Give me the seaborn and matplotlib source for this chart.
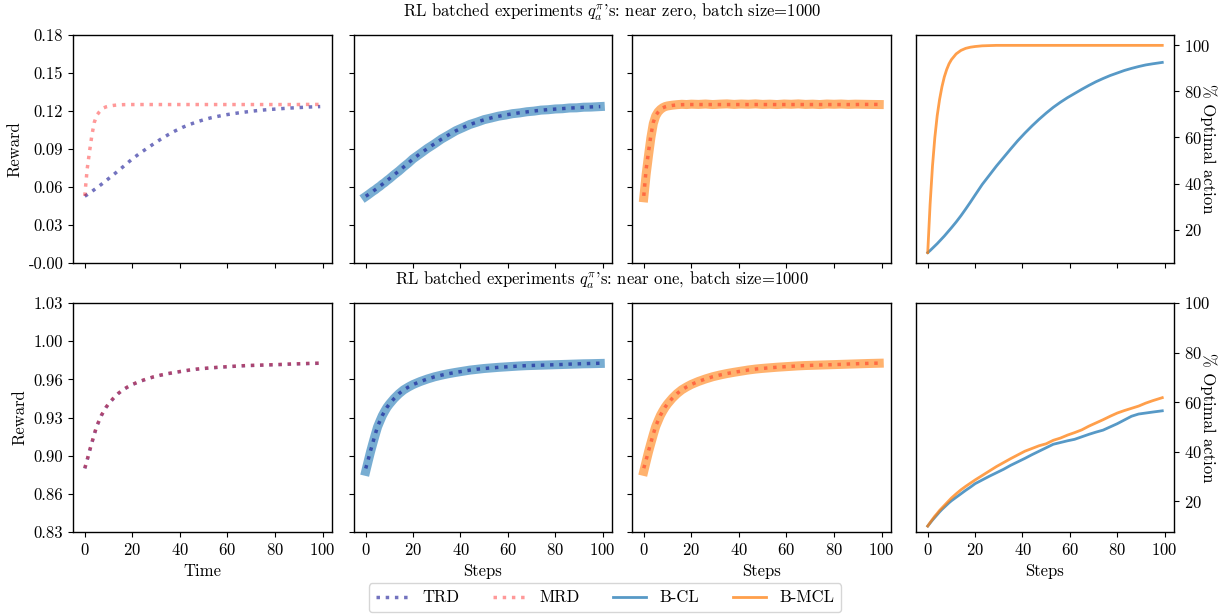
import matplotlib
matplotlib.use("Agg")
import matplotlib.pyplot as plt
import seaborn as sns

# ---------------------------------------------------------------- data
steps = [0, 1, 2, 3, 4, 5, 6, 7, 8, 9, 10, 12, 14, 16, 18, 20, 23, 26, 29, 32,
         35, 38, 41, 44, 47, 50, 53, 56, 59, 62, 65, 68, 71, 74, 77, 80, 83,
         86, 89, 92, 95, 99]

# q values near zero: mean reward
zero_trd = [0.0527, 0.0539, 0.0552, 0.0565, 0.0579, 0.0593, 0.0607, 0.0621,
            0.0636, 0.0651, 0.0666, 0.0696, 0.0727, 0.0758, 0.0790, 0.0822,
            0.0864, 0.0903, 0.0941, 0.0978, 0.1012, 0.1043, 0.1070, 0.1093,
            0.1113, 0.1131, 0.1146, 0.1158, 0.1169, 0.1178, 0.1186, 0.1193,
            0.1200, 0.1206, 0.1211, 0.1215, 0.1219, 0.1223, 0.1226, 0.1229,
            0.1232, 0.1235]
zero_mrd = [0.0530, 0.0740, 0.0880, 0.1010, 0.1110, 0.1165, 0.1190, 0.1210,
            0.1225, 0.1233, 0.1238, 0.1244, 0.1248, 0.1250, 0.1251, 0.1251,
            0.1251, 0.1251, 0.1251, 0.1251, 0.1251, 0.1251, 0.1251, 0.1251,
            0.1251, 0.1251, 0.1251, 0.1251, 0.1251, 0.1251, 0.1251, 0.1251,
            0.1251, 0.1251, 0.1251, 0.1251, 0.1251, 0.1251, 0.1251, 0.1252,
            0.1252, 0.1252]
zero_bcl = [0.0525, 0.0538, 0.0552, 0.0566, 0.0578, 0.0593, 0.0606, 0.0622,
            0.0635, 0.0651, 0.0665, 0.0697, 0.0726, 0.0759, 0.0789, 0.0823,
            0.0863, 0.0904, 0.0940, 0.0979, 0.1011, 0.1044, 0.1069, 0.1094,
            0.1112, 0.1132, 0.1145, 0.1159, 0.1168, 0.1179, 0.1185, 0.1194,
            0.1199, 0.1207, 0.1210, 0.1216, 0.1218, 0.1224, 0.1225, 0.1230,
            0.1231, 0.1235]
zero_bmcl = [0.0515, 0.0700, 0.0850, 0.0990, 0.1100, 0.1160, 0.1192, 0.1212,
             0.1226, 0.1235, 0.1240, 0.1246, 0.1250, 0.1253, 0.1251, 0.1254,
             0.1252, 0.1255, 0.1251, 0.1254, 0.1256, 0.1252, 0.1255, 0.1253,
             0.1256, 0.1252, 0.1254, 0.1251, 0.1255, 0.1253, 0.1256, 0.1252,
             0.1254, 0.1251, 0.1255, 0.1253, 0.1255, 0.1252, 0.1254, 0.1253,
             0.1252, 0.1251]
zero_opt_bcl = [10.0, 10.9, 11.9, 12.9, 13.9, 15.0, 16.1, 17.2, 18.4, 19.6,
                20.8, 23.3, 26.0, 28.9, 31.9, 35.0, 39.6, 43.6, 47.6, 51.3,
                55.0, 58.6, 61.9, 65.0, 67.9, 70.6, 73.1, 75.3, 77.3, 79.1,
                80.9, 82.6, 84.2, 85.6, 86.9, 88.0, 89.1, 90.0, 90.8, 91.5,
                92.0, 92.6]
zero_opt_bmcl = [10.0, 31.0, 47.5, 60.0, 69.5, 76.5, 82.0, 86.3, 89.5, 92.0,
                 93.8, 96.3, 97.8, 98.7, 99.2, 99.5, 99.8, 99.9, 100.0, 100.0,
                 100.0, 100.0, 100.0, 100.0, 100.0, 100.0, 100.0, 100.0, 100.0,
                 100.0, 100.0, 100.0, 100.0, 100.0, 100.0, 100.0, 100.0, 100.0,
                 100.0, 100.0, 100.0, 100.0]

# q values near one: mean reward
one_trd = [0.8855, 0.8928, 0.9007, 0.9080, 0.9153, 0.9222, 0.9270, 0.9318,
           0.9355, 0.9390, 0.9418, 0.9466, 0.9508, 0.9541, 0.9566, 0.9588,
           0.9614, 0.9636, 0.9655, 0.9670, 0.9683, 0.9694, 0.9704, 0.9714,
           0.9722, 0.9728, 0.9733, 0.9738, 0.9742, 0.9746, 0.9750, 0.9753,
           0.9755, 0.9757, 0.9759, 0.9761, 0.9763, 0.9766, 0.9768, 0.9770,
           0.9772, 0.9774]
one_mrd = [0.8857, 0.8930, 0.9008, 0.9082, 0.9155, 0.9224, 0.9272, 0.9320,
           0.9357, 0.9391, 0.9420, 0.9468, 0.9509, 0.9542, 0.9567, 0.9589,
           0.9615, 0.9637, 0.9656, 0.9671, 0.9684, 0.9695, 0.9705, 0.9715,
           0.9723, 0.9729, 0.9734, 0.9739, 0.9743, 0.9747, 0.9751, 0.9754,
           0.9756, 0.9758, 0.9760, 0.9762, 0.9764, 0.9767, 0.9769, 0.9771,
           0.9773, 0.9775]
one_bcl = [0.8830, 0.8915, 0.8998, 0.9074, 0.9148, 0.9218, 0.9268, 0.9316,
           0.9354, 0.9389, 0.9417, 0.9466, 0.9507, 0.9541, 0.9566, 0.9588,
           0.9614, 0.9636, 0.9655, 0.9670, 0.9683, 0.9694, 0.9704, 0.9714,
           0.9721, 0.9728, 0.9733, 0.9738, 0.9742, 0.9746, 0.9750, 0.9753,
           0.9755, 0.9757, 0.9759, 0.9761, 0.9763, 0.9765, 0.9767, 0.9769,
           0.9770, 0.9772]
one_bmcl = [0.8830, 0.8916, 0.9000, 0.9076, 0.9150, 0.9220, 0.9270, 0.9318,
            0.9356, 0.9390, 0.9419, 0.9468, 0.9509, 0.9542, 0.9567, 0.9589,
            0.9615, 0.9637, 0.9656, 0.9671, 0.9684, 0.9695, 0.9705, 0.9715,
            0.9723, 0.9729, 0.9734, 0.9739, 0.9743, 0.9747, 0.9751, 0.9754,
            0.9756, 0.9758, 0.9760, 0.9762, 0.9764, 0.9766, 0.9768, 0.9770,
            0.9772, 0.9774]
one_opt_bcl = [10.0, 11.2, 12.4, 13.5, 14.6, 15.7, 16.7, 17.6, 18.5, 19.4,
               20.2, 21.6, 23.0, 24.4, 25.7, 27.1, 28.6, 30.1, 31.5, 32.9,
               34.5, 35.9, 37.3, 38.8, 40.2, 41.6, 43.0, 43.7, 44.4, 45.0,
               46.0, 47.0, 47.9, 48.7, 50.0, 51.3, 52.8, 54.3, 55.2, 55.6,
               56.0, 56.5]
one_opt_bmcl = [10.0, 11.4, 12.7, 14.0, 15.1, 16.3, 17.3, 18.3, 19.3, 20.3,
                21.3, 23.0, 24.6, 26.0, 27.3, 28.6, 30.4, 32.2, 34.0, 35.6,
                37.2, 38.7, 40.2, 41.3, 42.4, 43.2, 44.6, 45.5, 46.7, 47.7,
                48.8, 50.3, 51.6, 52.9, 54.3, 55.6, 56.6, 57.5, 58.4, 59.6,
                60.6, 61.8]

zero_yticks = [0.0, 0.03, 0.06, 0.09, 0.12, 0.15, 0.18]
zero_yticklabels = ["-0.00", "0.03", "0.06", "0.09", "0.12", "0.15", "0.18"]
one_yticks = [0.83, 0.8633, 0.8967, 0.93, 0.9633, 0.9967, 1.03]
one_yticklabels = ["0.83", "0.86", "0.90", "0.93", "0.96", "1.00", "1.03"]
opt_yticks = [20, 40, 60, 80, 100]
xticks = [0, 20, 40, 60, 80, 100]

titles = [r"RL batched experiments $q_a^{\pi}$'s: near zero, batch size=1000",
          r"RL batched experiments $q_a^{\pi}$'s: near one, batch size=1000"]

# ---------------------------------------------------------------- style
plt.rcParams.update({
    "font.family": "serif",
    "font.serif": ["cmr10", "DejaVu Serif"],
    "mathtext.fontset": "cm",
    "axes.unicode_minus": False,
    "axes.formatter.use_mathtext": True,
    "font.size": 12,
    "axes.linewidth": 1.0,
})

C_TRD = dict(color="darkblue", alpha=0.55)
C_MRD = dict(color="red", alpha=0.4)
C_BCL = "tab:blue"
C_BMCL = "tab:orange"
DOT_LW = 2.5
BAND_LW = 6.5
LINE_LW = 2.0

fig = plt.figure(figsize=(12.25, 6.16), dpi=100)
W, H = 1225.0, 616.0
col_edges = [(73, 332), (354, 612), (632, 891), (916, 1174)]
row_edges = [(35, 263), (303, 532)]


def rect(col, row):
    x0, x1 = col_edges[col]
    y0, y1 = row_edges[row]
    return [x0 / W, 1 - y1 / H, (x1 - x0) / W, (y1 - y0) / H]


rows = [
    dict(trd=zero_trd, mrd=zero_mrd, bcl=zero_bcl, bmcl=zero_bmcl,
         obcl=zero_opt_bcl, obmcl=zero_opt_bmcl,
         ylim=(0.0, 0.18), yt=zero_yticks, ytl=zero_yticklabels),
    dict(trd=one_trd, mrd=one_mrd, bcl=one_bcl, bmcl=one_bmcl,
         obcl=one_opt_bcl, obmcl=one_opt_bmcl,
         ylim=(0.83, 1.03), yt=one_yticks, ytl=one_yticklabels),
]

axes = [[None] * 4 for _ in range(2)]
for r, d in enumerate(rows):
    ax1 = fig.add_axes(rect(0, r))
    ax2 = fig.add_axes(rect(1, r), sharey=ax1)
    ax3 = fig.add_axes(rect(2, r), sharey=ax1)
    ax4 = fig.add_axes(rect(3, r))
    axes[r] = [ax1, ax2, ax3, ax4]

    # reward of the two reference rules
    sns.lineplot(x=steps, y=d["trd"], ax=ax1, ls=":", lw=DOT_LW,
                 label="TRD", legend=False, **C_TRD)
    sns.lineplot(x=steps, y=d["mrd"], ax=ax1, ls=":", lw=DOT_LW,
                 label="MRD", legend=False, **C_MRD)

    # batched learners against their reference rules
    sns.lineplot(x=steps, y=d["bcl"], ax=ax2, color=C_BCL, alpha=0.6,
                 lw=BAND_LW, legend=False)
    sns.lineplot(x=steps, y=d["trd"], ax=ax2, ls=":", lw=DOT_LW,
                 legend=False, **C_TRD)
    sns.lineplot(x=steps, y=d["bmcl"], ax=ax3, color=C_BMCL, alpha=0.6,
                 lw=BAND_LW, legend=False)
    sns.lineplot(x=steps, y=d["mrd"], ax=ax3, ls=":", lw=DOT_LW,
                 legend=False, **C_MRD)

    # optimal action percentage
    sns.lineplot(x=steps, y=d["obcl"], ax=ax4, color=C_BCL, alpha=0.75,
                 lw=LINE_LW, label="B-CL", legend=False)
    sns.lineplot(x=steps, y=d["obmcl"], ax=ax4, color=C_BMCL, alpha=0.75,
                 lw=LINE_LW, label="B-MCL", legend=False)

    ax1.set_ylim(*d["ylim"])
    ax1.set_yticks(d["yt"])
    ax1.set_yticklabels(d["ytl"])
    ax1.set_ylabel("Reward")
    for ax in (ax2, ax3):
        ax.tick_params(axis="y", labelleft=False)
        ax.set_ylabel("")

    ax4.yaxis.tick_right()
    ax4.yaxis.set_label_position("right")
    ax4.set_yticks(opt_yticks)
    if r == 1:
        ax4.set_ylim(7.6, 100)
    ax4.set_ylabel("% Optimal action", rotation=270, va="center",
                   ha="center")
    ax4.yaxis.set_label_coords(1.132, 0.5)

    for ax in (ax1, ax2, ax3, ax4):
        ax.set_xlim(-4.95, 103.95)
        ax.set_xticks(xticks)
        if r == 0:
            ax.tick_params(axis="x", labelbottom=False)
            ax.set_xlabel("")

axes[1][0].set_xlabel("Time")
for ax in axes[1][1:]:
    ax.set_xlabel("Steps")

fig.text(612 / W, 1 - 12 / H, titles[0], ha="center", va="center")
fig.text(602 / W, 1 - 280 / H, titles[1], ha="center", va="center")

h1, l1 = axes[0][0].get_legend_handles_labels()
h4, l4 = axes[0][3].get_legend_handles_labels()
fig.legend(h1 + h4, l1 + l4, loc="lower center", ncol=4,
           bbox_to_anchor=(605 / W, 4 / H), borderaxespad=0, fontsize=12)

fig.savefig("out.png", dpi=100)
